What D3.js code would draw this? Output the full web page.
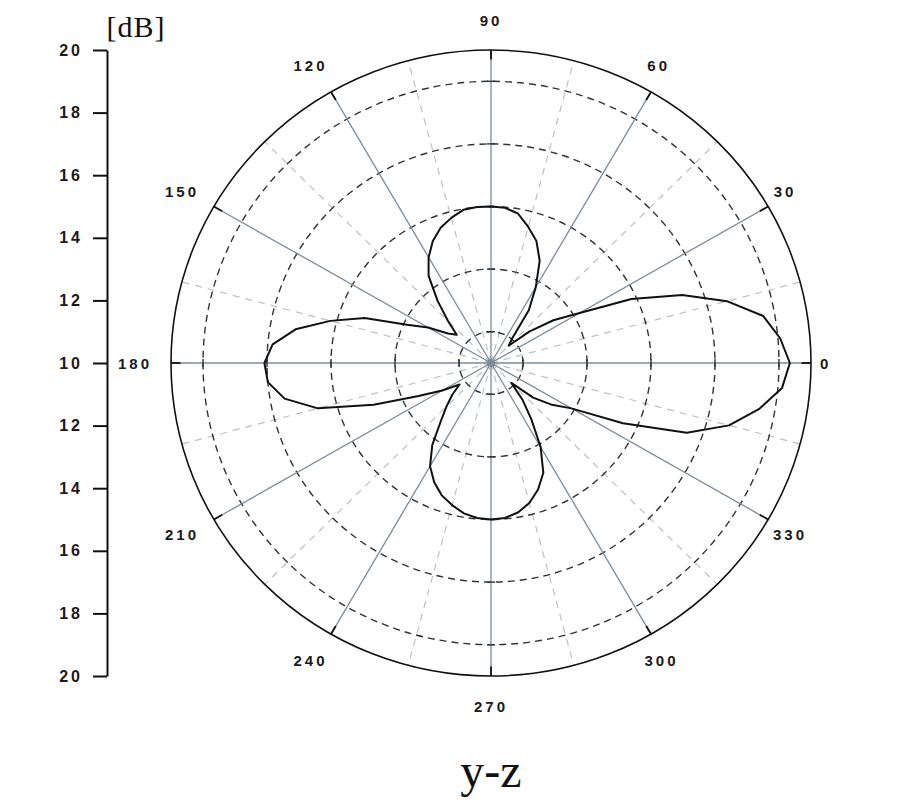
<!DOCTYPE html>
<html lang='en'>
<head>
  <meta charset='UTF-8'>
  <title>y-z</title>
  <script src='https://d3js.org/d3.v7.min.js'></script>
  <style>
    body { margin: 0; background: #fff; }
    #main { width: 900px; height: 800px; }
    .num { font-family: 'Liberation Sans', Arial, sans-serif; font-size: 15px; font-weight: bold; letter-spacing: 3px; fill: #1a1a1a; }
  </style>
</head>
<body>
<div id='main'></div>
<script>
  // 角度 (deg) 与增益 (dB)
  const angleDeg = d3.range(0, 360, 5)
  const gainDb = [
    19.34, 19.07, 18.64, 17.63, 16.36, 14.84, 13.2, 12.38, 11.56, 10.78, 11.04, 12.06,
    12.8, 13.6, 14.15, 14.5, 14.85, 14.98, 15.0, 15.0, 14.97, 14.8, 14.6, 14.3,
    13.9, 13.4, 12.6, 11.9, 11.4, 11.64, 12.27, 12.9, 14.2, 15.2, 16.2, 16.85,
    17.08, 17.0, 16.55, 15.6, 13.9, 12.5, 11.76, 11.2, 11.58, 11.97, 12.45, 13.2,
    13.81, 14.2, 14.5, 14.7, 14.88, 14.97, 15.0, 14.97, 14.85, 14.63, 14.3, 13.87,
    13.1, 12.2, 11.53, 10.9, 11.72, 12.33, 12.9, 14.55, 16.51, 17.7, 18.5, 19.13
  ]
  const angleTicks = d3.range(0, 360, 30)
  const gridDb = [11, 13, 15, 17, 19]
  const axisMajor = [-10, -8, -6, -4, -2, 0, 2, 4, 6, 8, 10]
  const axisMinor = [-9, -7, -5, -3, -1, 1, 3, 5, 7, 9]
  const title = 'y-z'

  const width = 900
  const height = 800
  const cx = 491
  const cy = 363
  const rx = 320
  const ry = 313

  const svg = d3.select('#main').append('svg')
    .attr('width', width)
    .attr('height', height)

  // 半径比例尺 10dB 在中心, 20dB 在外圈
  const r = d3.scaleLinear().domain([10, 20]).range([0, 1])
  const px = (v, a) => cx + r(v) * rx * Math.cos(a * Math.PI / 180)
  const py = (v, a) => cy - r(v) * ry * Math.sin(a * Math.PI / 180)

  const grid = svg.append('g')

  // 浅色虚线辐条 (15, 45, ...)
  grid.selectAll('.minor-spoke')
    .data(angleTicks.map(a => a + 15))
    .enter().append('line')
    .attr('x1', cx).attr('y1', cy)
    .attr('x2', a => px(20, a)).attr('y2', a => py(20, a))
    .style('stroke', '#b9c1c9')
    .style('stroke-width', 1.2)
    .style('stroke-dasharray', '7,6')

  // 虚线圆
  grid.selectAll('.ring')
    .data(gridDb)
    .enter().append('ellipse')
    .attr('cx', cx).attr('cy', cy)
    .attr('rx', d => r(d) * rx)
    .attr('ry', d => r(d) * ry)
    .style('fill', 'none')
    .style('stroke', '#333')
    .style('stroke-width', 1.4)
    .style('stroke-dasharray', '7,5')

  // 实线辐条
  grid.selectAll('.spoke')
    .data(angleTicks)
    .enter().append('line')
    .attr('x1', cx).attr('y1', cy)
    .attr('x2', a => px(20, a)).attr('y2', a => py(20, a))
    .style('stroke', '#7d8b98')
    .style('stroke-width', 1.3)

  // 主轴上的小刻度
  const axisTicks = []
  ;[0, 90, 180, 270].forEach(a => gridDb.forEach(v => axisTicks.push({ a, v })))
  grid.selectAll('.rtick')
    .data(axisTicks)
    .enter().append('line')
    .attr('x1', d => px(d.v, d.a) - 4 * Math.sin(d.a * Math.PI / 180))
    .attr('y1', d => py(d.v, d.a) - 4 * Math.cos(d.a * Math.PI / 180))
    .attr('x2', d => px(d.v, d.a) + 4 * Math.sin(d.a * Math.PI / 180))
    .attr('y2', d => py(d.v, d.a) + 4 * Math.cos(d.a * Math.PI / 180))
    .style('stroke', '#333')
    .style('stroke-width', 1.4)

  // 外圈
  grid.append('ellipse')
    .attr('cx', cx).attr('cy', cy)
    .attr('rx', rx).attr('ry', ry)
    .style('fill', 'none')
    .style('stroke', '#111')
    .style('stroke-width', 1.6)

  // 外圈刻度
  grid.selectAll('.otick')
    .data(angleTicks)
    .enter().append('line')
    .attr('x1', a => px(20, a)).attr('y1', a => py(20, a))
    .attr('x2', a => px(19.7, a)).attr('y2', a => py(19.7, a))
    .style('stroke', '#111')
    .style('stroke-width', 1.8)

  grid.append('circle')
    .attr('cx', cx).attr('cy', cy).attr('r', 4)
    .style('fill', '#7d8b98')

  // 方向图曲线
  const pts = angleDeg.map((a, i) => [px(gainDb[i], a), py(gainDb[i], a)])
  svg.append('path')
    .attr('d', d3.line().curve(d3.curveLinearClosed)(pts))
    .style('fill', 'none')
    .style('stroke', '#111')
    .style('stroke-width', 2)
    .style('stroke-linejoin', 'round')

  // 角度标签
  const labels = svg.append('g')
  labels.selectAll('text')
    .data(angleTicks)
    .enter().append('text')
    .attr('class', 'num')
    .attr('text-anchor', 'middle')
    .attr('dominant-baseline', 'central')
    .text(a => a)
    .each(function (a) {
      const hw = this.getComputedTextLength() / 2
      const rad = a * Math.PI / 180
      const c = Math.cos(rad)
      const s = Math.sin(rad)
      const x = px(20, a) + c * (14 + hw) - (Math.abs(c) > 0.01 ? 5 : 0)
      const y = py(20, a) - s * 30
      d3.select(this).attr('x', x).attr('y', y)
    })

  // 左侧 dB 轴
  const yAxis = d3.scaleLinear().domain([-10, 10]).range([cy + ry, cy - ry])
  const axisG = svg.append('g').attr('transform', 'translate(107,0)')
  axisG.call(d3.axisLeft(yAxis).tickValues(axisMinor).tickSize(8).tickFormat(''))
  axisG.call(d3.axisLeft(yAxis).tickValues(axisMajor).tickSize(14).tickSizeOuter(0).tickPadding(10)
    .tickFormat(d => 10 + Math.abs(d)))
  axisG.selectAll('path, line').style('stroke', '#111').style('stroke-width', 2)
  axisG.selectAll('text')
    .attr('class', 'num')
    .style('font-size', '16px')
  axisG.attr('font-family', null).attr('font-size', null)

  svg.append('text')
    .attr('x', 136).attr('y', 26)
    .attr('text-anchor', 'middle')
    .attr('dominant-baseline', 'central')
    .style('font-family', "'Liberation Serif', 'Times New Roman', serif")
    .style('font-size', '30px')
    .style('letter-spacing', '1px')
    .style('fill', '#111')
    .text('[dB]')

  svg.append('text')
    .attr('x', 491).attr('y', 787)
    .attr('text-anchor', 'middle')
    .style('font-family', "'Liberation Serif', 'Times New Roman', serif")
    .style('font-size', '48px')
    .style('fill', '#111')
    .text(title)
</script>
</body>
</html>
